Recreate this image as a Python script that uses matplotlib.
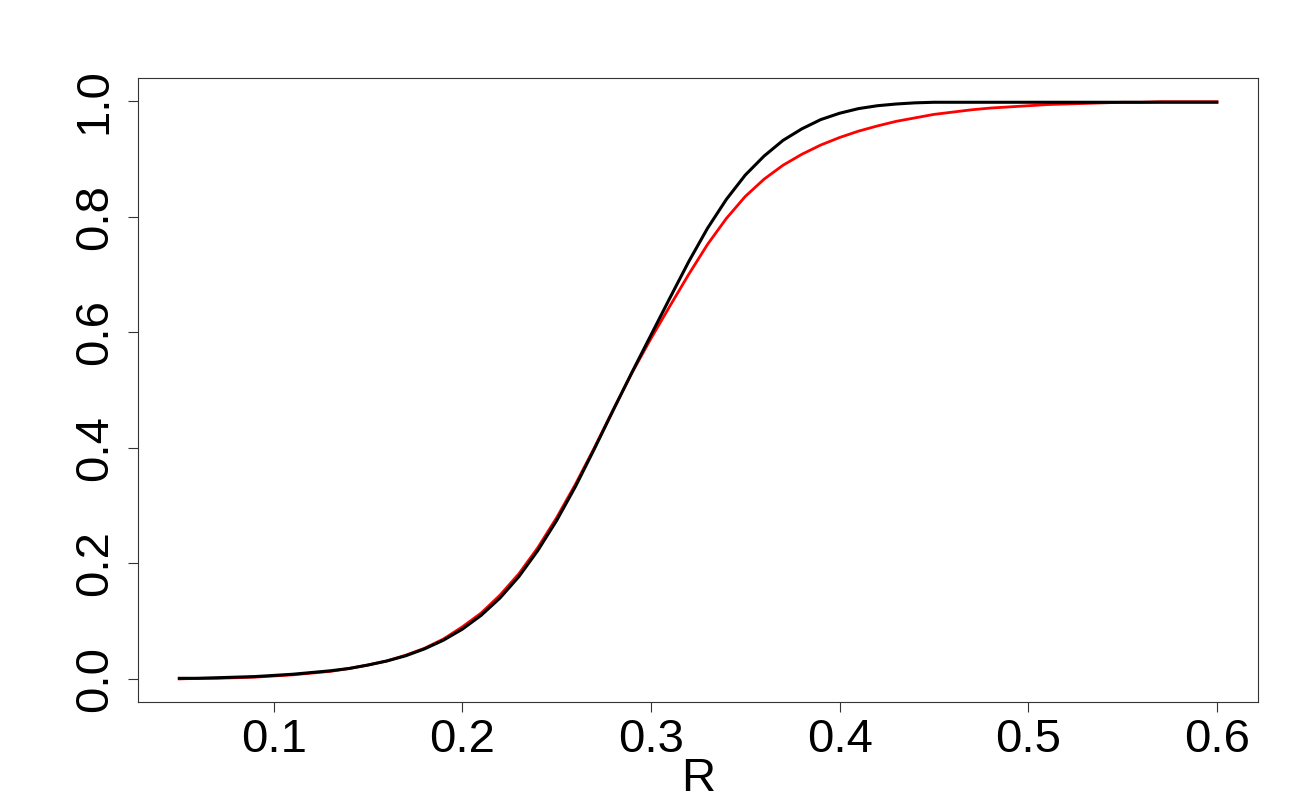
import matplotlib
matplotlib.use("Agg")
import matplotlib.pyplot as plt

plt.rcParams['font.family'] = ['Liberation Sans', 'DejaVu Sans']

# R grid (0.05 .. 0.60 by 0.01)
r_values = [0.05, 0.06, 0.07, 0.08, 0.09, 0.10, 0.11, 0.12, 0.13, 0.14,
            0.15, 0.16, 0.17, 0.18, 0.19, 0.20, 0.21, 0.22, 0.23, 0.24,
            0.25, 0.26, 0.27, 0.28, 0.29, 0.30, 0.31, 0.32, 0.33, 0.34,
            0.35, 0.36, 0.37, 0.38, 0.39, 0.40, 0.41, 0.42, 0.43, 0.44,
            0.45, 0.46, 0.47, 0.48, 0.49, 0.50, 0.51, 0.52, 0.53, 0.54,
            0.55, 0.56, 0.57, 0.58, 0.59, 0.60]

black_curve = [0.001, 0.001, 0.002, 0.003, 0.004, 0.006, 0.008, 0.011, 0.014, 0.018,
               0.024, 0.031, 0.040, 0.052, 0.067, 0.086, 0.110, 0.140, 0.177, 0.222,
               0.274, 0.333, 0.398, 0.465, 0.531, 0.595, 0.659, 0.722, 0.780, 0.830,
               0.872, 0.905, 0.932, 0.952, 0.968, 0.979, 0.987, 0.992, 0.995, 0.997,
               0.998, 0.998, 0.998, 0.998, 0.998, 0.998, 0.998, 0.998, 0.998, 0.998,
               0.998, 0.998, 0.998, 0.998, 0.998, 0.998]

red_curve = [0.000, 0.001, 0.001, 0.002, 0.003, 0.005, 0.007, 0.010, 0.013, 0.018,
             0.024, 0.031, 0.041, 0.053, 0.069, 0.090, 0.114, 0.145, 0.182, 0.227,
             0.279, 0.337, 0.400, 0.466, 0.530, 0.589, 0.645, 0.700, 0.752, 0.797,
             0.835, 0.865, 0.889, 0.908, 0.924, 0.937, 0.948, 0.957, 0.965, 0.971,
             0.977, 0.981, 0.985, 0.988, 0.990, 0.992, 0.994, 0.995, 0.996, 0.997,
             0.998, 0.998, 0.999, 0.999, 0.999, 0.999]

x_ticks = [0.1, 0.2, 0.3, 0.4, 0.5, 0.6]
y_ticks = [0.0, 0.2, 0.4, 0.6, 0.8, 1.0]

fig = plt.figure(figsize=(13, 8), dpi=100)
ax = fig.add_axes([0.106, 0.1225, 0.862, 0.78])

ax.plot(r_values, red_curve, color='red', linewidth=2.0)
ax.plot(r_values, black_curve, color='black', linewidth=2.2)

# R-style 4% padding
ax.set_xlim(0.028, 0.622)
ax.set_ylim(-0.04, 1.04)

ax.set_xticks(x_ticks)
ax.set_xticklabels([f"{v:.1f}" for v in x_ticks])
ax.set_yticks(y_ticks)
ax.set_yticklabels([f"{v:.1f}" for v in y_ticks], rotation=90, va='center')

ax.tick_params(axis='both', direction='out', length=7.2, width=0.8,
               labelsize=34, color='#333333')
ax.tick_params(axis='x', pad=4)
ax.tick_params(axis='y', pad=8)

for spine in ax.spines.values():
    spine.set_linewidth(0.8)
    spine.set_color('#333333')

ax.set_xlabel('R', fontsize=34, labelpad=-3)

fig.savefig('out.png', dpi=100)
